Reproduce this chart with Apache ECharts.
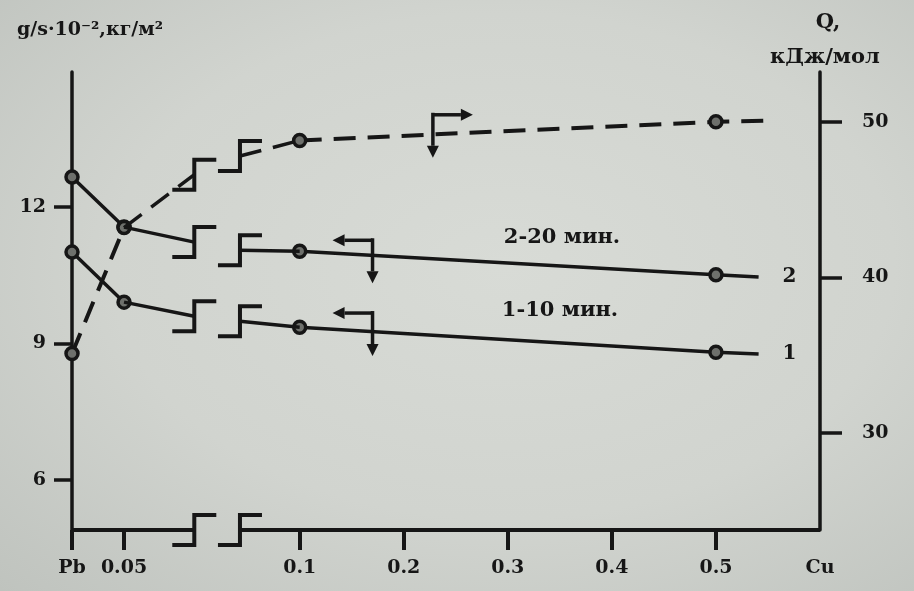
<!DOCTYPE html>
<html>
<head>
<meta charset="utf-8">
<script src="https://cdn.jsdelivr.net/npm/echarts@6.0.0/dist/echarts.min.js"></script>
<style>
  html, body { margin: 0; padding: 0; }
  body { background: radial-gradient(ellipse at 55% 45%, #d8dbd6 0%, #d1d4cf 55%, #bfc3be 100%); }
  #chart { width: 914px; height: 591px; }
</style>
</head>
<body>
<div id="chart"></div>
<script>
// ---- data ----
const xTickValues = [0, 0.05, 0.1, 0.2, 0.3, 0.4, 0.5, 0.6];
const xTickLabels = ['Pb', '0.05', '0.1', '0.2', '0.3', '0.4', '0.5', 'Cu'];
const cuContent = [0, 0.05, 0.1, 0.5];
const rate1 = [11.01, 9.91, 9.36, 8.81];      // curve 1, 1-10 мин.
const rate2 = [12.66, 11.56, 11.03, 10.51];   // curve 2, 2-20 мин.
const energyQ = [35.1, 43.2, 48.8, 50.0];     // Q, кДж/мол (dashed)
const lineEndX = [0.541, 0.541, 0.546];
const lineEndY = [8.77, 10.46, 50.06];
const leftTicks = [6, 9, 12];
const rightTicks = [30, 40, 50];
const breakY1 = [9.60, 9.49];
const breakY2 = [11.23, 11.05];
const breakQ = [46.6, 47.8];
const arrowsLeft = [[0.17, 11.27, -1], [0.17, 9.67, -1]];
const arrowsRight = [[0.228, 50.45, 1]];
const curveNames = ['1', '2'];
const timeLabels = ['2-20 мин.', '1-10 мин.'];

const BREAK_START = 0.05, BREAK_END = 0.1;
const X_MIN = 0, X_MAX = 0.6;
const Y_MIN = 4.9, Y_MAX = 14.97;
const Q_MIN = 23.76, Q_MAX = 53.2;
const INK = '#161616';
const FONT = "'DejaVu Serif', 'Liberation Serif', serif";

function lineData(xs, ys, endX, endY) {
  const d = [];
  for (let i = 0; i < xs.length; i++) {
    d.push([xs[i], ys[i]]);
    if (xs[i] === BREAK_START) d.push(null);
  }
  d.push({ value: [endX, endY], symbol: 'none' });
  return d;
}

function renderBreak(params, api) {
  const yFrom = api.value(0), ya = api.value(1), yb = api.value(2), yTo = api.value(3), kind = api.value(4);
  const pFrom = api.coord([BREAK_START, yFrom]);
  const pTo = api.coord([BREAK_END, yTo]);
  const xa = pFrom[0] + 0.40 * (pTo[0] - pFrom[0]);
  const xb = pFrom[0] + 0.66 * (pTo[0] - pFrom[0]);
  const ca = api.coord([BREAK_START, ya])[1];
  const cb = api.coord([BREAK_START, yb])[1];
  const h = 15, w = 22;
  const stepStyle = { stroke: INK, lineWidth: 4, fill: null, lineCap: 'butt', lineJoin: 'miter' };
  const connStyle = { stroke: INK, lineWidth: kind === 2 ? 4 : 3.5, lineDash: kind === 1 ? [22, 12] : null, fill: null };
  let s = pFrom, e = pTo;
  if (kind === 2) { s = api.coord([X_MIN, yFrom]); e = api.coord([X_MAX, yTo]); }
  return {
    type: 'group',
    children: [
      { type: 'line', shape: { x1: s[0], y1: s[1], x2: xa, y2: ca }, style: connStyle },
      { type: 'line', shape: { x1: xb, y1: cb, x2: e[0], y2: e[1] }, style: connStyle },
      { type: 'polyline', shape: { points: [[xa - w, ca + h], [xa, ca + h], [xa, ca - h], [xa + w, ca - h]] }, style: stepStyle },
      { type: 'polyline', shape: { points: [[xb - w, cb + h], [xb, cb + h], [xb, cb - h], [xb + w, cb - h]] }, style: stepStyle }
    ]
  };
}

function renderArrow(params, api) {
  const p = api.coord([api.value(0), api.value(1)]);
  const dir = api.value(2);
  const len = 28, head = 12, down = 31, hw = 6;
  const st = { stroke: INK, lineWidth: 3.5, fill: null };
  return {
    type: 'group',
    children: [
      { type: 'line', shape: { x1: p[0], y1: p[1], x2: p[0] + dir * len, y2: p[1] }, style: st },
      { type: 'polygon', shape: { points: [[p[0] + dir * (len + head), p[1]], [p[0] + dir * len, p[1] - hw], [p[0] + dir * len, p[1] + hw]] }, style: { fill: INK } },
      { type: 'line', shape: { x1: p[0], y1: p[1] - 2, x2: p[0], y2: p[1] + down }, style: st },
      { type: 'polygon', shape: { points: [[p[0], p[1] + down + head], [p[0] - hw, p[1] + down], [p[0] + hw, p[1] + down]] }, style: { fill: INK } }
    ]
  };
}

const markerStyle = { color: '#6e706c', borderColor: INK, borderWidth: 3.5 };
const tickFont = { color: INK, fontFamily: FONT, fontWeight: 'bold', fontSize: 19 };

const chart = echarts.init(document.getElementById('chart'), null, { renderer: 'canvas' });
chart.setOption({
  animation: false,
  backgroundColor: 'transparent',
  grid: { left: 72, right: 94, top: 72, bottom: 61, containLabel: false, outerBoundsMode: 'none' },
  xAxis: {
    type: 'value', min: X_MIN, max: X_MAX,
    breaks: [{ start: BREAK_START, end: BREAK_END, gap: 0.1688 }],
    breakArea: { show: false },
    axisLine: { show: false },
    axisTick: { show: true, customValues: xTickValues.slice(0, 7), length: 20, lineStyle: { color: INK, width: 4 } },
    axisLabel: Object.assign({
      customValues: xTickValues, margin: 29,
      formatter: function (v) {
        for (let i = 0; i < xTickValues.length; i++) if (Math.abs(xTickValues[i] - v) < 1e-6) return xTickLabels[i];
        return '';
      }
    }, tickFont),
    splitLine: { show: false }
  },
  yAxis: [{
    type: 'value', min: Y_MIN, max: Y_MAX, position: 'left',
    axisLine: { show: true, onZero: false, lineStyle: { color: INK, width: 3.5 } },
    axisTick: { show: true, customValues: leftTicks, length: 18, lineStyle: { color: INK, width: 3.5 } },
    axisLabel: Object.assign({ customValues: leftTicks, margin: 26 }, tickFont),
    splitLine: { show: false }
  }, {
    type: 'value', min: Q_MIN, max: Q_MAX, position: 'right',
    axisLine: { show: true, onZero: false, lineStyle: { color: INK, width: 3.5 } },
    axisTick: { show: true, customValues: rightTicks, length: 22, lineStyle: { color: INK, width: 3.5 } },
    axisLabel: Object.assign({ customValues: rightTicks, margin: 42 }, tickFont),
    splitLine: { show: false }
  }],
  series: [
    {
      type: 'line', yAxisIndex: 0, data: lineData(cuContent, rate1, lineEndX[0], lineEndY[0]),
      connectNulls: false, symbol: 'circle', symbolSize: 12, itemStyle: markerStyle,
      lineStyle: { color: INK, width: 3.5 }, z: 3,
      endLabel: { show: true, formatter: curveNames[0], distance: 24, color: INK, fontFamily: FONT, fontWeight: 'bold', fontSize: 20 }
    },
    {
      type: 'line', yAxisIndex: 0, data: lineData(cuContent, rate2, lineEndX[1], lineEndY[1]),
      connectNulls: false, symbol: 'circle', symbolSize: 12, itemStyle: markerStyle,
      lineStyle: { color: INK, width: 3.5 }, z: 3,
      endLabel: { show: true, formatter: curveNames[1], distance: 24, color: INK, fontFamily: FONT, fontWeight: 'bold', fontSize: 20 }
    },
    {
      type: 'line', yAxisIndex: 1, data: lineData(cuContent, energyQ, lineEndX[2], lineEndY[2]),
      connectNulls: false, symbol: 'circle', symbolSize: 12, itemStyle: markerStyle,
      lineStyle: { color: INK, width: 4, type: [22, 12] }, z: 3
    },
    {
      type: 'custom', yAxisIndex: 0, renderItem: renderBreak, z: 4,
      data: [
        [rate1[1], breakY1[0], breakY1[1], rate1[2], 0],
        [rate2[1], breakY2[0], breakY2[1], rate2[2], 0],
        [Y_MIN, Y_MIN, Y_MIN, Y_MIN, 2]
      ]
    },
    {
      type: 'custom', yAxisIndex: 1, renderItem: renderBreak, z: 4,
      data: [[energyQ[1], breakQ[0], breakQ[1], energyQ[2], 1]]
    },
    { type: 'custom', yAxisIndex: 0, renderItem: renderArrow, z: 4, data: arrowsLeft },
    { type: 'custom', yAxisIndex: 1, renderItem: renderArrow, z: 4, data: arrowsRight }
  ],
  graphic: [
    { type: 'text', left: 17, top: 21, style: { text: 'g/s·10⁻²,кг/м²', fill: INK, font: "bold 19px " + FONT } },
    { type: 'text', x: 828, y: 23, style: { text: 'Q,', fill: INK, font: "bold 21px " + FONT, align: 'center', verticalAlign: 'middle' } },
    { type: 'text', x: 825, y: 58, style: { text: 'кДж/мол', fill: INK, font: "bold 21px " + FONT, align: 'center', verticalAlign: 'middle' } },
    { type: 'text', x: 562, y: 238, style: { text: timeLabels[0], fill: INK, font: "bold 21px " + FONT, align: 'center', verticalAlign: 'middle' } },
    { type: 'text', x: 560, y: 311, style: { text: timeLabels[1], fill: INK, font: "bold 21px " + FONT, align: 'center', verticalAlign: 'middle' } }
  ]
});
</script>
</body>
</html>
